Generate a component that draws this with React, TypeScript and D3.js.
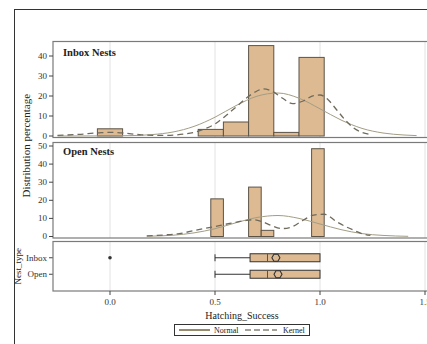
import React from "react";
import * as d3 from "d3";

// ---------- data ----------
const xTicks = [0, 0.5, 1.0, 1.5];
const inboxYTicks = [0, 10, 20, 30, 40];
const openYTicks = [0, 10, 20, 30, 40, 50];

const inboxBinCenters = [0, 0.48, 0.6, 0.72, 0.84, 0.96];
const inboxBinPct = [3.6, 3.3, 7.0, 45.2, 1.8, 39.3];
const inboxBinWidth = 0.12;

const openBinCenters = [0.51, 0.69, 0.75, 0.99];
const openBinPct = [20.8, 27.3, 3.4, 48.5];
const openBinWidth = 0.06;

const inboxNormalX = [-0.25, 0, 0.1, 0.2, 0.3, 0.4, 0.5, 0.6, 0.7, 0.8, 0.9, 1.0, 1.1, 1.2, 1.3, 1.4, 1.46];
const inboxNormalY = [0, 0.05, 0.2, 0.7, 2.0, 4.8, 9.4, 15.2, 19.9, 21.5, 18.9, 13.6, 8.0, 3.8, 1.5, 0.5, 0.2];

const inboxKernelX = [-0.25, -0.15, -0.05, 0, 0.05, 0.15, 0.25, 0.35, 0.45, 0.5, 0.55, 0.6, 0.65, 0.7, 0.73, 0.77, 0.82, 0.87, 0.92, 0.97, 1.0, 1.04, 1.08, 1.12, 1.16, 1.2, 1.24];
const inboxKernelY = [0.3, 0.8, 1.6, 1.8, 1.6, 0.6, 0.3, 0.9, 3.5, 6.0, 10.0, 14.5, 19.0, 22.5, 23.6, 22.5, 19.0, 16.2, 17.5, 20.2, 20.5, 18.0, 13.0, 8.0, 4.0, 1.8, 0.8];

const openNormalX = [0.175, 0.3, 0.4, 0.5, 0.6, 0.7, 0.8, 0.9, 1.0, 1.1, 1.2, 1.3, 1.42];
const openNormalY = [0.15, 0.7, 2.0, 4.3, 7.6, 10.5, 11.6, 10.0, 6.9, 3.8, 1.6, 0.6, 0.1];

const openKernelX = [0.175, 0.25, 0.33, 0.41, 0.49, 0.57, 0.65, 0.68, 0.72, 0.77, 0.82, 0.87, 0.92, 0.97, 1.02, 1.08, 1.12, 1.16, 1.2, 1.24];
const openKernelY = [0.3, 0.8, 1.6, 3.5, 5.3, 7.2, 8.9, 9.3, 8.4, 6.0, 4.4, 5.5, 9.0, 11.8, 12.3, 8.1, 5.6, 3.5, 1.6, 0.6];

const boxCategories = ["Inbox", "Open"];
const boxWhiskerLow = [0.5, 0.5];
const boxQ1 = [0.667, 0.667];
const boxMedian = [0.75, 0.75];
const boxQ3 = [1.0, 1.0];
const boxWhiskerHigh = [1.0, 1.0];
const boxMean = [0.79, 0.8];
const boxOutliers = [[0], []];

// ---------- styles ----------
const FONT = "'Liberation Serif', 'DejaVu Serif', serif";
const BAR_FILL = "#DDBA91";
const BAR_STROKE = "#5b5346";
const NORMAL_COLOR = "#a29d85";
const KERNEL_COLOR = "#6f6a5c";
const GRID = "#e2e2e2";
const FRAME = "#7a7a7a";

export default function App() {
  const W = 427;
  const H = 344;
  const plotLeft = 53;
  const plotRight = 460;

  const x = d3.scaleLinear().domain([0, 1.5]).range([110, 425]);

  const p1 = { top: 41.5, bottom: 137.5 };
  const p2 = { top: 142.5, bottom: 238 };
  const p3 = { top: 241.5, bottom: 291 };

  const yIn = d3.scaleLinear().domain([0, 40]).range([136, 56]);
  const yOp = d3.scaleLinear().domain([0, 50]).range([236.5, 146]);
  const yBox = d3.scaleBand().domain(boxCategories).range([249.5, 282.5]).padding(0);

  const lineGen = (ys: d3.ScaleLinear<number, number>) =>
    d3
      .line<[number, number]>()
      .x((d) => x(d[0]))
      .y((d) => ys(d[1]))
      .curve(d3.curveMonotoneX);

  const zip = (a: number[], b: number[]) => a.map((v, i) => [v, b[i]] as [number, number]);

  const grid = (top: number, bottom: number) =>
    xTicks.map((t) => (
      <line key={"g" + t} x1={x(t)} x2={x(t)} y1={top} y2={bottom} stroke={GRID} strokeWidth={1} />
    ));

  const yAxis = (ys: d3.ScaleLinear<number, number>, ticks: number[]) =>
    ticks.map((t) => (
      <g key={"yt" + t}>
        <line x1={plotLeft - 4} x2={plotLeft} y1={ys(t)} y2={ys(t)} stroke="#444" />
        <text x={plotLeft - 6} y={ys(t)} dy="0.33em" textAnchor="end" fontSize={9} fill="#333" fontFamily={FONT}>
          {t}
        </text>
      </g>
    ));

  const bars = (
    centers: number[],
    pct: number[],
    width: number,
    ys: d3.ScaleLinear<number, number>
  ) =>
    centers.map((c, i) => {
      const x0 = x(c - width / 2);
      const x1 = x(c + width / 2);
      return (
        <rect
          key={"b" + i}
          x={x0}
          y={ys(pct[i])}
          width={x1 - x0}
          height={ys(0) - ys(pct[i])}
          fill={BAR_FILL}
          stroke={BAR_STROKE}
          strokeWidth={1}
        />
      );
    });

  const bandH = 8;

  return (
    <svg
      width={W}
      height={H}
      style={{ position: "absolute", left: 0, top: 0, background: "#fff" }}
      fontFamily={FONT}
    >
      <rect x={0} y={0} width={W} height={H} fill="#fff" />
      {/* outer frame */}
      <rect x={14.5} y={9.5} width={600} height={500} fill="none" stroke="#333" strokeWidth={1} />

      {/* Panel 1: Inbox */}
      {grid(p1.top, p1.bottom)}
      {bars(inboxBinCenters, inboxBinPct, inboxBinWidth, yIn)}
      <path d={lineGen(yIn)(zip(inboxNormalX, inboxNormalY)) || ""} fill="none" stroke={NORMAL_COLOR} strokeWidth={1} />
      <path
        d={lineGen(yIn)(zip(inboxKernelX, inboxKernelY)) || ""}
        fill="none"
        stroke={KERNEL_COLOR}
        strokeWidth={1.3}
        strokeDasharray="6,4"
      />
      <rect x={plotLeft} y={p1.top} width={plotRight - plotLeft} height={p1.bottom - p1.top} fill="none" stroke={FRAME} strokeWidth={1.2} />
      {yAxis(yIn, inboxYTicks)}
      <text x={63} y={56} fontSize={10.5} fontWeight="bold" fill="#222">
        Inbox Nests
      </text>

      {/* Panel 2: Open */}
      {grid(p2.top, p2.bottom)}
      {bars(openBinCenters, openBinPct, openBinWidth, yOp)}
      <path d={lineGen(yOp)(zip(openNormalX, openNormalY)) || ""} fill="none" stroke={NORMAL_COLOR} strokeWidth={1} />
      <path
        d={lineGen(yOp)(zip(openKernelX, openKernelY)) || ""}
        fill="none"
        stroke={KERNEL_COLOR}
        strokeWidth={1.3}
        strokeDasharray="6,4"
      />
      <rect x={plotLeft} y={p2.top} width={plotRight - plotLeft} height={p2.bottom - p2.top} fill="none" stroke={FRAME} strokeWidth={1.2} />
      {yAxis(yOp, openYTicks)}
      <text x={63} y={155} fontSize={10.5} fontWeight="bold" fill="#222">
        Open Nests
      </text>

      {/* Y label */}
      <text
        transform={`translate(30,${(p1.top + p2.bottom) / 2 + 6}) rotate(-90)`}
        textAnchor="middle"
        fontSize={11}
        fill="#222"
      >
        Distribution percentage
      </text>

      {/* Panel 3: box plots */}
      {grid(p3.top, p3.bottom)}
      {boxCategories.map((cat, i) => {
        const cy = (yBox(cat) || 0) + yBox.bandwidth() / 2;
        const mx = x(boxMean[i]);
        return (
          <g key={"box" + cat}>
            <line x1={x(boxWhiskerLow[i])} x2={x(boxQ1[i])} y1={cy} y2={cy} stroke="#333" />
            <line x1={x(boxWhiskerLow[i])} x2={x(boxWhiskerLow[i])} y1={cy - 3.5} y2={cy + 3.5} stroke="#333" />
            <line x1={x(boxQ3[i])} x2={x(boxWhiskerHigh[i])} y1={cy} y2={cy} stroke="#333" />
            <rect
              x={x(boxQ1[i])}
              y={cy - bandH / 2}
              width={x(boxQ3[i]) - x(boxQ1[i])}
              height={bandH}
              fill={BAR_FILL}
              stroke="#333"
            />
            <line x1={x(boxMedian[i])} x2={x(boxMedian[i])} y1={cy - bandH / 2} y2={cy + bandH / 2} stroke="#555" />
            <path
              d={`M${mx - 4},${cy} L${mx - 2},${cy - 3.5} L${mx + 2},${cy - 3.5} L${mx + 4},${cy} L${mx + 2},${cy + 3.5} L${mx - 2},${cy + 3.5} Z`}
              fill="none"
              stroke="#333"
              strokeWidth={1.1}
            />
            {boxOutliers[i].map((o, j) => (
              <circle key={"o" + j} cx={x(o)} cy={cy} r={1.8} fill="#333" />
            ))}
            <line x1={plotLeft - 4} x2={plotLeft} y1={cy} y2={cy} stroke="#444" />
            <text x={plotLeft - 6} y={cy} dy="0.33em" textAnchor="end" fontSize={9} fill="#333">
              {cat}
            </text>
          </g>
        );
      })}
      <rect x={plotLeft} y={p3.top} width={plotRight - plotLeft} height={p3.bottom - p3.top} fill="none" stroke={FRAME} strokeWidth={1.2} />
      <text transform={`translate(21,${(p3.top + p3.bottom) / 2}) rotate(-90)`} textAnchor="middle" fontSize={9} fill="#222">
        Nest_type
      </text>

      {/* X axis */}
      {xTicks.map((t) => (
        <g key={"xt" + t}>
          <line x1={x(t)} x2={x(t)} y1={p3.bottom} y2={p3.bottom + 4} stroke="#444" />
          <text x={x(t)} y={305} textAnchor="middle" fontSize={9} fill="#333">
            {d3.format(".1f")(t)}
          </text>
        </g>
      ))}
      <text x={242} y={319} textAnchor="middle" fontSize={10} fill="#222">
        Hatching_Success
      </text>

      {/* Legend */}
      <rect x={174.5} y={324.5} width={135} height={11} fill="#fff" stroke="#333" />
      <line x1={179} x2={210} y1={330} y2={330} stroke="#6b5a2e" strokeWidth={1.4} />
      <text x={214} y={333} fontSize={8} fill="#222">
        Normal
      </text>
      <line x1={245} x2={277} y1={330} y2={330} stroke="#4a4535" strokeWidth={1.2} strokeDasharray="6,3" />
      <text x={283} y={333} fontSize={8} fill="#222">
        Kernel
      </text>
    </svg>
  );
}
